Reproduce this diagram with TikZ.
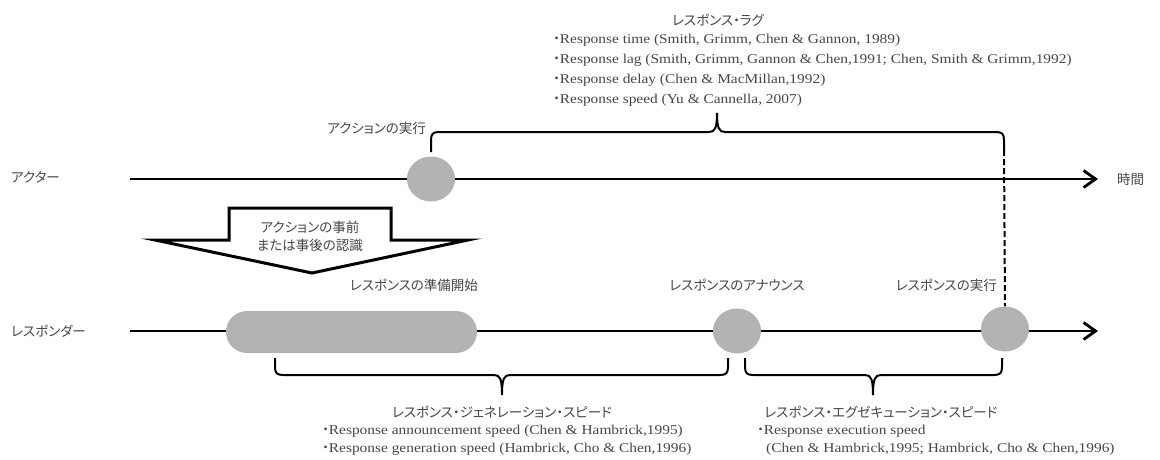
\documentclass[tikz,border=0pt]{standalone}
\usepackage{fontspec}
\setmainfont[FakeStretch=1.14]{Liberation Serif}
\newfontfamily\jp[RawFeature=+palt]{Noto Sans CJK JP}
\usetikzlibrary{arrows.meta,shapes.geometric}
\definecolor{fillgray}{RGB}{179,179,179}
\definecolor{txt}{RGB}{70,70,70}
\tikzset{
  axis/.style={line width=2pt,-{Straight Barb[length=12pt,width=17pt,line width=2.8pt]}},
  brace/.style={line width=2pt},
  dashline/.style={line width=2pt,dash pattern=on 6pt off 3pt},
  event/.style={ellipse,fill=fillgray,draw=none,minimum width=48pt,minimum height=45pt,inner sep=0pt},
  period/.style={rectangle,rounded corners=21pt,fill=fillgray,draw=none,minimum width=251pt,minimum height=42pt,inner sep=0pt},
  jlab/.style={font=\jp\fontsize{13.5}{16}\selectfont,text=txt,inner sep=0pt},
  elab/.style={font=\fontsize{13.5}{16}\selectfont,text=txt,inner sep=0pt,anchor=west,text height=10pt,text depth=3pt},
  bigarrow/.style={line width=3pt,fill=white,line join=miter},
}
\begin{document}
\begin{tikzpicture}[x=1pt,y=-1pt]
\useasboundingbox (0,0) rectangle (1160,459);
% axes
\coordinate (a0) at (130,179);
\coordinate (a1) at (1098,179);
\coordinate (r0) at (130,331);
\coordinate (r1) at (1098,331);
\draw[axis] (a0) -- (a1);
\draw[axis] (r0) -- (r1);
\node[jlab,anchor=west] (actor) at (11,177) {アクター};
\node[jlab,anchor=west] (responder) at (11,331) {レスポンダー};
\node[jlab,anchor=west] (time) at (1117,179) {時間};
% events
\node[event] (act) at (431,179) {};
\node[period] (prep) at (351.5,332) {};
\node[event] (ann) at (737,331) {};
\node[event] (ex) at (1005,329) {};
\node[jlab,anchor=east] (actlab) at (426,128) {アクションの実行};
\node[jlab] (preplab) at (414,285) {レスポンスの準備開始};
\node[jlab] (annlab) at (737,285) {レスポンスのアナウンス};
\node[jlab,anchor=east] (exlab) at (997,285) {レスポンスの実行};
% big arrow
\draw[bigarrow] (229,208) -- (391,208) -- (391,240) -- (468,240) -- (312,273) -- (155,240) -- (229,240) -- cycle;
\node[jlab,align=center,font=\jp\fontsize{13.5}{18}\selectfont] (recog) at (310,236) {アクションの事前\\または事後の認識};
% top brace
\coordinate (tb0) at (431,152);
\coordinate (tb1) at (1004,150);
\draw[brace] (tb0) -- (431,140) .. controls (431,134) and (433,132) .. (439,132) -- (709,132)
  .. controls (715,132) and (717,128) .. (717,113) .. controls (717,128) and (719,132) .. (725,132)
  -- (996,132) .. controls (1002,132) and (1004,134) .. (1004,140) -- (tb1);
\draw[dashline] (tb1) -- (ex.north);
% bottom braces
\draw[brace] (275,358) -- (275,367) .. controls (275,373) and (277,375) .. (283,375) -- (494,375)
  .. controls (500,375) and (502,379) .. (502,395) .. controls (502,379) and (504,375) .. (510,375)
  -- (720,375) .. controls (726,375) and (728,373) .. (728,367) -- (728,358);
\draw[brace] (745,358) -- (745,367) .. controls (745,373) and (747,375) .. (753,375) -- (865,375)
  .. controls (871,375) and (873,379) .. (873,395) .. controls (873,379) and (875,375) .. (881,375)
  -- (994,375) .. controls (1000,375) and (1002,373) .. (1002,367) -- (1002,358);
% top text
\node[jlab] (lagT) at (718,20) {レスポンス・ラグ};
\node[elab] (lag1) at (553,40) {{\jp ・}Response time (Smith, Grimm, Chen \& Gannon, 1989)};
\node[elab] (lag2) at (553,60) {{\jp ・}Response lag (Smith, Grimm, Gannon \& Chen,1991; Chen, Smith \& Grimm,1992)};
\node[elab] (lag3) at (553,80) {{\jp ・}Response delay (Chen \& MacMillan,1992)};
\node[elab] (lag4) at (553,100) {{\jp ・}Response speed (Yu \& Cannella, 2007)};
% bottom left text
\node[jlab] (genT) at (502,412) {レスポンス・ジェネレーション・スピード};
\node[elab] (gen1) at (322,431) {{\jp ・}Response announcement speed (Chen \& Hambrick,1995)};
\node[elab] (gen2) at (322,449) {{\jp ・}Response generation speed (Hambrick, Cho \& Chen,1996)};
% bottom right text
\node[jlab] (exT) at (881,412) {レスポンス・エグゼキューション・スピード};
\node[elab] (ex1) at (757,431) {{\jp ・}Response execution speed};
\node[elab] (ex2) at (766,449) {(Chen \& Hambrick,1995; Hambrick, Cho \& Chen,1996)};
\end{tikzpicture}
\end{document}
